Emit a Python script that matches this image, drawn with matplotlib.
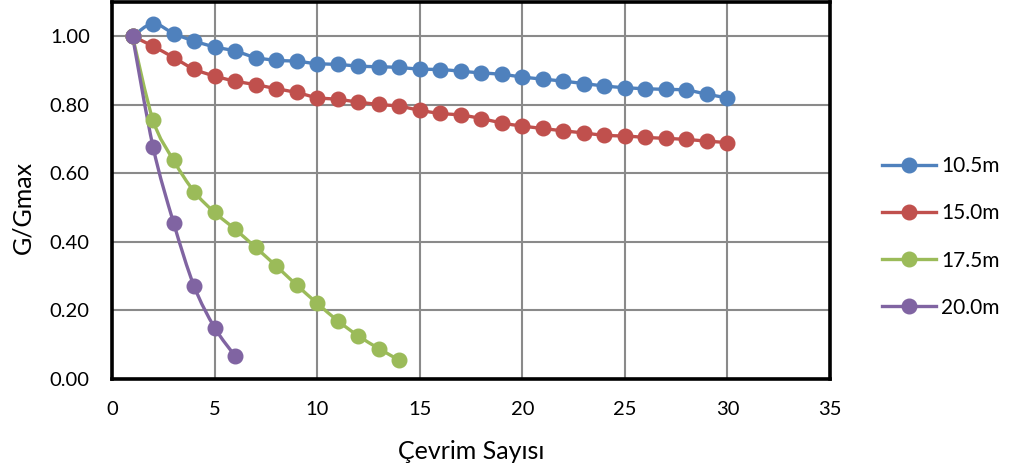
import numpy as np
import matplotlib
matplotlib.use('Agg')
import matplotlib.pyplot as plt
from matplotlib.path import Path
from matplotlib.patches import PathPatch
from matplotlib.lines import Line2D

plt.rcParams['font.family'] = ['Lato', 'DejaVu Sans']

labels = ['10.5m', '15.0m', '17.5m', '20.0m']
colors = ['#4F81BD', '#C0504D', '#9BBB59', '#8064A2']

x_105 = list(range(1, 31))
y_105 = [1.000, 1.037, 1.008, 0.986, 0.969, 0.957, 0.938, 0.930, 0.927, 0.920,
         0.918, 0.913, 0.911, 0.909, 0.904, 0.903, 0.898, 0.893, 0.889, 0.881,
         0.875, 0.869, 0.862, 0.855, 0.850, 0.847, 0.845, 0.843, 0.831, 0.820]

x_150 = list(range(1, 31))
y_150 = [1.000, 0.971, 0.938, 0.904, 0.884, 0.869, 0.859, 0.847, 0.836, 0.821,
         0.816, 0.808, 0.801, 0.796, 0.784, 0.775, 0.770, 0.760, 0.747, 0.738,
         0.731, 0.724, 0.718, 0.711, 0.709, 0.705, 0.702, 0.699, 0.694, 0.690]

x_175 = list(range(1, 15))
y_175 = [1.000, 0.755, 0.638, 0.547, 0.486, 0.437, 0.384, 0.330, 0.274, 0.221,
         0.170, 0.126, 0.089, 0.055]

x_200 = list(range(1, 7))
y_200 = [1.000, 0.677, 0.456, 0.271, 0.150, 0.067]

series = [(x_105, y_105), (x_150, y_150), (x_175, y_175), (x_200, y_200)]


def smooth_path(x, y):
	# Catmull-Rom style bezier, like the smoothed lines in Excel
	p = np.column_stack([x, y]).astype(float)
	n = len(p)
	verts = [p[0]]
	codes = [Path.MOVETO]
	for i in range(n - 1):
		p0 = p[i - 1] if i > 0 else p[i]
		p1 = p[i]
		p2 = p[i + 1]
		p3 = p[i + 2] if i + 2 < n else p[i + 1]
		c1 = p1 + (p2 - p0) / 6.0
		c2 = p2 - (p3 - p1) / 6.0
		verts += [c1, c2, p2]
		codes += [Path.CURVE4] * 3
	return Path(verts, codes)


fig = plt.figure(figsize=(10.12, 4.74), dpi=100)
ax = fig.add_axes([0.1107, 0.2004, 0.7095, 0.7954])

for (x, y), c in zip(series, colors):
	patch = PathPatch(smooth_path(x, y), facecolor='none', edgecolor=c,
		lw=2.4, capstyle='round', joinstyle='round', zorder=3)
	ax.add_patch(patch)
	ax.plot(x, y, 'o', color=c, markersize=10.5, zorder=4)

ax.set_xlim(0, 35)
ax.set_ylim(0, 1.1)
ax.set_xticks(range(0, 36, 5))
ax.set_yticks(np.arange(0, 1.01, 0.2))
ax.set_yticklabels(['%.2f' % v for v in np.arange(0, 1.01, 0.2)])
ax.grid(True, color='#8A8A8A', lw=1.5)
ax.set_axisbelow(True)
for s in ax.spines.values():
	s.set_linewidth(2.6)
	s.set_color('black')
ax.tick_params(length=0, labelsize=14.5, pad=16)

ax.set_xlabel('Çevrim Sayısı', fontsize=18)
ax.set_ylabel('G/Gmax', fontsize=18)
ax.xaxis.set_label_coords(0.5, -0.162)
ax.yaxis.set_label_coords(-0.108, 0.454)

handles = [Line2D([], [], color=c, lw=2.4, marker='o', markersize=10.5) for c in colors]
fig.legend(handles, labels, loc='center left', bbox_to_anchor=(0.8715, 0.5),
	frameon=False, fontsize=15, handlelength=2.6, handletextpad=0.25,
	labelspacing=1.3, borderpad=0, borderaxespad=0)

plt.savefig('out.png', dpi=100)
